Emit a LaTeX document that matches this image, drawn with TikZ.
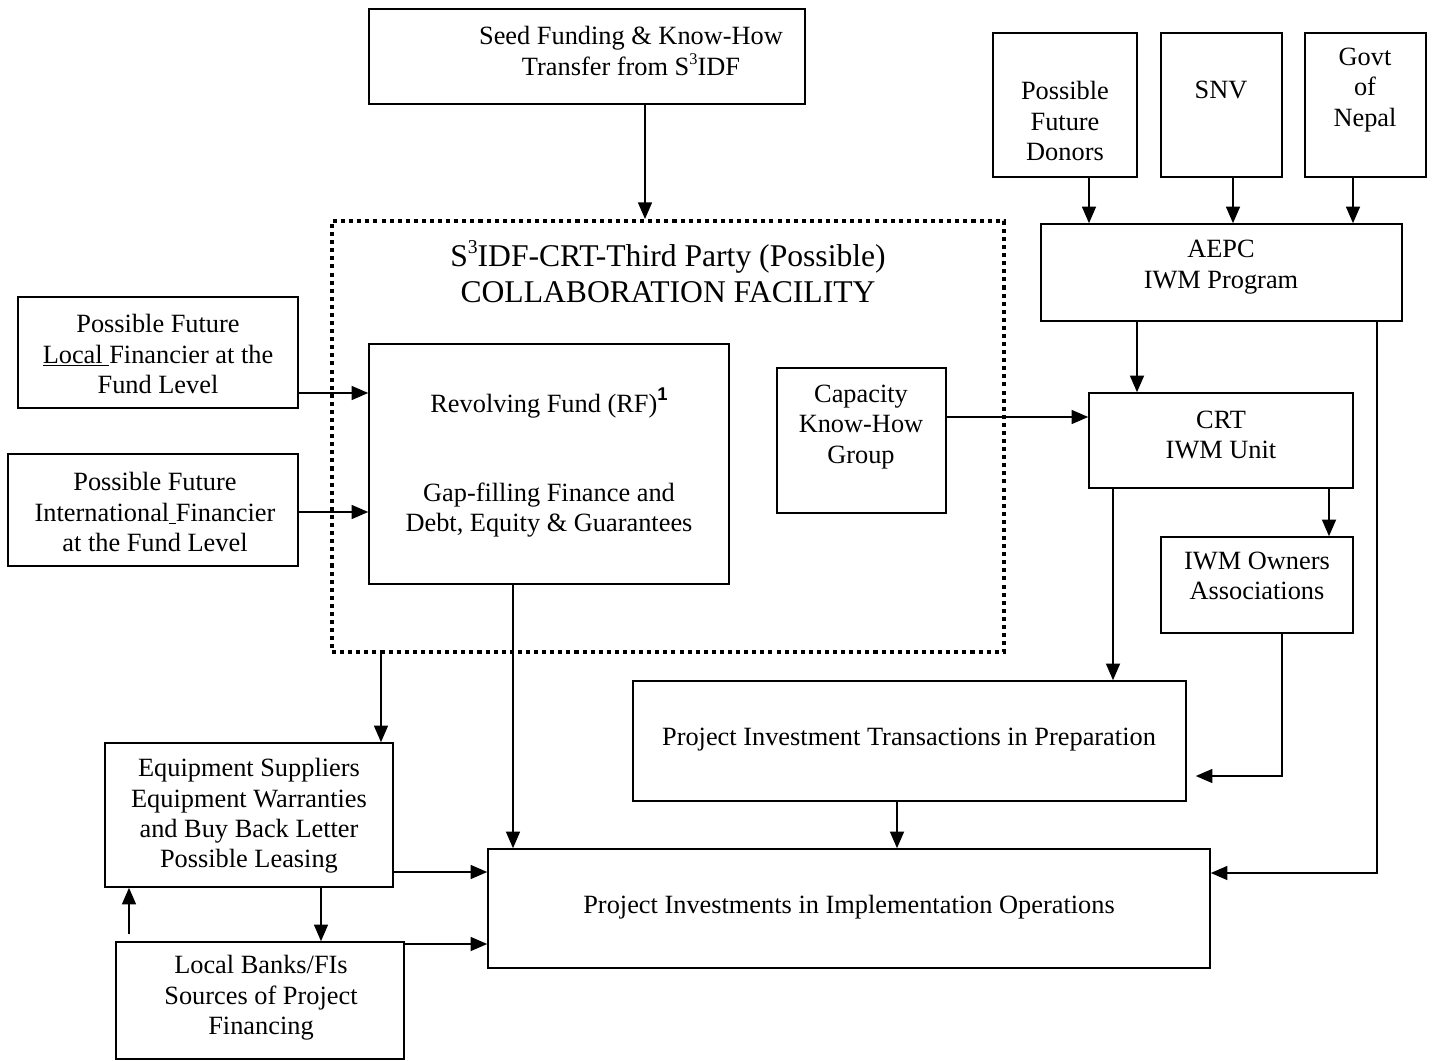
\documentclass[tikz,border=0pt]{standalone}
\usepackage{fontspec}
\setmainfont{Liberation Serif}
\setsansfont{Liberation Sans}
\usetikzlibrary{arrows.meta,fit}
\newcommand{\sidf}{S\raisebox{.42em}{\scalebox{.62}{3}}IDF}
\newcommand{\fnone}{\raisebox{.42em}{\scalebox{.7}{\sffamily\bfseries 1}}}

\begin{document}
\begin{tikzpicture}[x=0.02cm, y=-0.02cm]
% Estilos
\tikzstyle{box} = [draw, line width=0.9pt, inner sep=0pt]
\tikzstyle{txt} = [align=center, font=\fontsize{15}{17.3}\selectfont, inner sep=0pt]
\tikzstyle{facility} = [draw, line width=2.3pt, dash pattern=on 2.3pt off 2.3pt, inner sep=0pt]
\tikzstyle{flow} = [line width=0.9pt, -{Triangle[length=9.5pt,width=8pt]}]

\useasboundingbox (0,0) rectangle (1434,1061);

% Caja superior
\node[box, fit={(369,9) (805,104)}] (seed) {};
\node[txt] (seedT) at (631,51) {Seed Funding \& Know-How\\Transfer from \sidf};

% Facilidad de colaboracion
\node[facility, fit={(332,221) (1004,652)}] (fac) {};
\node[txt, font=\fontsize{18}{20.5}\selectfont] (facT) at (668,272) {\sidf-CRT-Third Party (Possible)\\COLLABORATION FACILITY};

\node[box, fit={(369,344) (729,584)}] (rf) {};
\node[txt] (rfT) at (549,403) {Revolving Fund (RF)\fnone};
\node[txt] (rfB) at (549,510) {Gap-filling Finance and\\Debt, Equity \& Guarantees};

\node[box, fit={(777,368) (946,513)}] (cap) {};
\node[txt] (capT) at (861,427) {Capacity\\Know-How\\Group};

% Financiadores
\node[box, fit={(18,297) (298,408)}] (local) {};
\node[txt] (localT) at (158,354) {Possible Future\\\underline{Local\ }Financier at the\\Fund Level};
\node[box, fit={(8,454) (298,566)}] (intl) {};
\node[txt] (intlT) at (155,512) {Possible Future\\International\underline{\ }Financier\\at the Fund Level};

% Donantes
\node[box, fit={(993,33) (1137,177)}] (donors) {};
\node[txt] (donorsT) at (1065,121) {Possible\\Future\\Donors};
\node[box, fit={(1161,33) (1282,177)}] (snv) {};
\node[txt] (snvT) at (1221,90) {SNV};
\node[box, fit={(1305,33) (1426,177)}] (govt) {};
\node[txt] (govtT) at (1365,90) {Govt\\of\\Nepal};

% Programa IWM
\node[box, fit={(1041,224) (1402,321)}] (aepc) {};
\node[txt] (aepcT) at (1221,267) {AEPC\\IWM Program};
\node[box, fit={(1089,393) (1353,488)}] (crt) {};
\node[txt] (crtT) at (1221,435) {CRT\\IWM Unit};
\node[box, fit={(1161,537) (1353,633)}] (iwm) {};
\node[txt] (iwmT) at (1257,576) {IWM Owners\\Associations};

% Proyectos
\node[box, fit={(633,681) (1186,801)}] (pit) {};
\node[txt] (pitT) at (909,740) {Project Investment Transactions in Preparation};
\node[box, fit={(488,849) (1210,968)}] (impl) {};
\node[txt] (implT) at (849,907) {Project Investments in Implementation Operations};
\node[box, fit={(105,743) (393,887)}] (equip) {};
\node[txt] (equipT) at (249,816) {Equipment Suppliers\\Equipment Warranties\\and Buy Back Letter\\Possible Leasing};
\node[box, fit={(116,942) (404,1059)}] (banks) {};
\node[txt] (banksT) at (261,998) {Local Banks/FIs\\Sources of Project\\Financing};

% Guias de las conexiones
\coordinate (seedX) at (645,0);
\coordinate (localY) at (0,393);
\coordinate (intlY) at (0,512);
\coordinate (aepcX) at (1137,0);
\coordinate (aepcTurn) at (1377,873);
\coordinate (capY) at (0,417);
\coordinate (crtL) at (1113,0);
\coordinate (crtR) at (1329,0);
\coordinate (iwmTurn) at (1282,776);
\coordinate (pitX) at (897,0);
\coordinate (rfX) at (513,0);
\coordinate (facX) at (381,0);
\coordinate (equipY) at (0,872);
\coordinate (equipX) at (321,0);
\coordinate (banksX) at (129,0);
\coordinate (banksY) at (0,944);

% Conexiones
\draw[flow] (seed.south -| seedX) -- (fac.north -| seedX);
\draw[flow] (local.east |- localY) -- (rf.west |- localY);
\draw[flow] (intl.east |- intlY) -- (rf.west |- intlY);
\foreach \src/\gx in {donors/1089, snv/1233, govt/1353} {
  \coordinate (\src-x) at (\gx,0);
  \draw[flow] (\src.south -| \src-x) -- (aepc.north -| \src-x);
}
\draw[flow] (aepc.south -| aepcX) -- (crt.north -| aepcX);
\draw[flow] (aepc.south -| aepcTurn) -- (aepcTurn) -- (impl.east |- aepcTurn);
\draw[flow] (cap.east |- capY) -- (crt.west |- capY);
\draw[flow] (crt.south -| crtR) -- (iwm.north -| crtR);
\draw[flow] (crt.south -| crtL) -- (pit.north -| crtL);
\draw[flow, shorten >=0.18cm] (iwm.south -| iwmTurn) -- (iwmTurn) -- (pit.east |- iwmTurn);
\draw[flow] (pit.south -| pitX) -- (impl.north -| pitX);
\draw[flow] (rf.south -| rfX) -- (impl.north -| rfX);
\draw[flow] (fac.south -| facX) -- (equip.north -| facX);
\draw[flow] (equip.east |- equipY) -- (impl.west |- equipY);
\draw[flow] (equip.south -| equipX) -- (banks.north -| equipX);
\draw[flow, shorten <=0.14cm] (banks.north -| banksX) -- (equip.south -| banksX);
\draw[flow] (banks.east |- banksY) -- (impl.west |- banksY);
\end{tikzpicture}
\end{document}
